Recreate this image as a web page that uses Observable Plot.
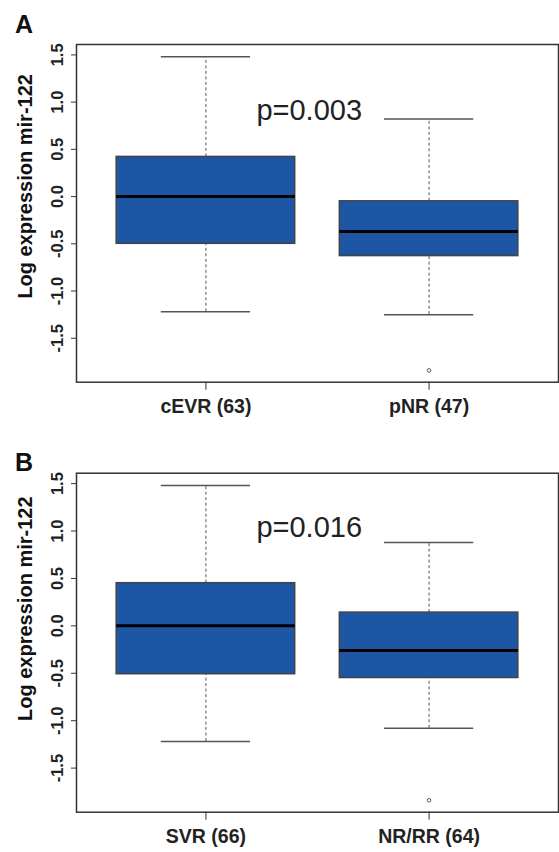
<!DOCTYPE html>
<html><head><meta charset="utf-8">
<script src="https://cdn.jsdelivr.net/npm/d3@7"></script>
<script src="https://cdn.jsdelivr.net/npm/@observablehq/plot@0.6"></script>
<style>
body{margin:0;background:#fff;font-family:"Liberation Sans",Arial,sans-serif;}
.panel{position:relative;width:559px;height:426px;}
.letter{position:absolute;left:15px;font-weight:bold;font-size:25px;line-height:1;color:#111;}
</style></head><body>
<div id="chart"></div>
<script>
// ---- data ----
const panelLetters = ["A", "B"];
const yLabel = "Log expression mir-122";
const yTicks = [-1.5, -1.0, -0.5, 0.0, 0.5, 1.0, 1.5];

const groupsA = ["cEVR (63)", "pNR (47)"];
const lowA    = [-1.22, -1.25];
const q1A     = [-0.50, -0.63];
const medA    = [ 0.00, -0.37];
const q3A     = [ 0.42, -0.05];
const highA   = [ 1.48,  0.82];
const outlierGroupA = ["pNR (47)"];
const outlierValueA = [-1.84];
const pTextA = "p=0.003";

const groupsB = ["SVR (66)", "NR/RR (64)"];
const lowB    = [-1.22, -1.08];
const q1B     = [-0.51, -0.55];
const medB    = [ 0.00, -0.26];
const q3B     = [ 0.45,  0.14];
const highB   = [ 1.48,  0.88];
const outlierGroupB = ["NR/RR (64)"];
const outlierValueB = [-1.84];
const pTextB = "p=0.016";

// ---- drawing ----
function panel(groups, low, q1, med, q3, high, oGroups, oValues, pText, cfg) {
  const rows = groups.map((g, i) => ({x: i + 1, g, lo: low[i], q1: q1[i], med: med[i], q3: q3[i], hi: high[i]}));
  const outs = oGroups.map((g, i) => ({x: groups.indexOf(g) + 1, y: oValues[i]}));
  const bw = 0.4, cw = 0.2;
  return Plot.plot({
    width: 559, height: 426,
    marginLeft: 76, marginRight: 1, marginTop: cfg.mt, marginBottom: cfg.mb,
    style: {fontFamily: "Liberation Sans, Arial, sans-serif", color: "#222", background: "#fff"},
    x: {domain: [0.42, 2.58]},
    y: {domain: [-1.965, 1.61]},
    marks: [
      Plot.ruleX(rows, {x: "x", y1: "q3", y2: "hi", stroke: "#555", strokeWidth: 1, strokeDasharray: "3,2.5"}),
      Plot.ruleX(rows, {x: "x", y1: "lo", y2: "q1", stroke: "#555", strokeWidth: 1, strokeDasharray: "3,2.5"}),
      Plot.ruleY(rows, {y: "hi", x1: d => d.x - cw, x2: d => d.x + cw, stroke: "#555", strokeWidth: 1.5}),
      Plot.ruleY(rows, {y: "lo", x1: d => d.x - cw, x2: d => d.x + cw, stroke: "#555", strokeWidth: 1.5}),
      Plot.rect(rows, {x1: d => d.x - bw, x2: d => d.x + bw, y1: "q1", y2: "q3", fill: "#1c56a4", stroke: "#444", strokeWidth: 1.5}),
      Plot.ruleY(rows, {y: "med", x1: d => d.x - bw, x2: d => d.x + bw, stroke: "#000", strokeWidth: 3}),
      Plot.dot(outs, {x: "x", y: "y", r: 1.8, stroke: "#333", strokeWidth: 0.8, fill: "none"}),
      Plot.text([pText], {x: 1.463, y: cfg.py, text: d => d, fontSize: 29, fill: "#222"}),
      Plot.frame({stroke: "#333", strokeWidth: 1.5}),
      Plot.axisY({ticks: yTicks, tickSize: 5, tickPadding: 9, tickRotate: -90, tickFormat: d => d.toFixed(1),
                  fontSize: 16.5, fontWeight: "bold", label: null, stroke: "#333"}),
      Plot.axisX({ticks: [1, 2], tickFormat: i => groups[i - 1], tickSize: 8, tickPadding: 9,
                  fontSize: 19.5, fontWeight: "bold", label: null, stroke: "#333"}),
      Plot.text([yLabel], {frameAnchor: "left", dx: -51, dy: cfg.tdy, rotate: -90, text: d => d,
                  textAnchor: "middle", fontSize: 20, fontWeight: "bold", fill: "#111"})
    ]
  });
}

const root = document.getElementById("chart");
const specs = [
  {g: groupsA, lo: lowA, q1: q1A, med: medA, q3: q3A, hi: highA, og: outlierGroupA, ov: outlierValueA, p: pTextA,
   cfg: {mt: 44, mb: 44.3, py: 0.91, tdy: -27}, letterTop: 12},
  {g: groupsB, lo: lowB, q1: q1B, med: medB, q3: q3B, hi: highB, og: outlierGroupB, ov: outlierValueB, p: pTextB,
   cfg: {mt: 46.7, mb: 40.3, py: 1.03, tdy: -34}, letterTop: 24}
];
specs.forEach((s, i) => {
  const div = document.createElement("div");
  div.className = "panel";
  div.appendChild(panel(s.g, s.lo, s.q1, s.med, s.q3, s.hi, s.og, s.ov, s.p, s.cfg));
  const L = document.createElement("div");
  L.className = "letter";
  L.style.top = s.letterTop + "px";
  L.textContent = panelLetters[i];
  div.appendChild(L);
  root.appendChild(div);
});
</script>
</body></html>
